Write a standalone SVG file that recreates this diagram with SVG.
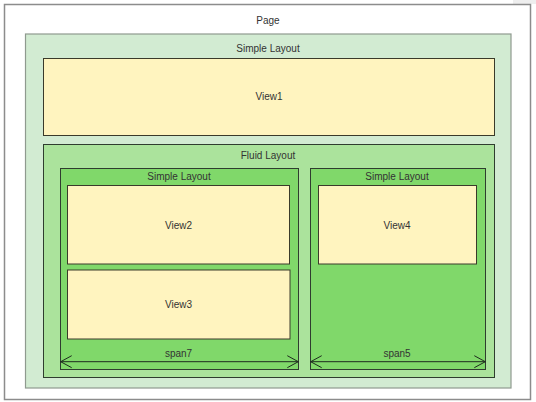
<svg xmlns="http://www.w3.org/2000/svg" width="536" height="402" viewBox="0 0 536 402">
<defs>
<style>
text{font-family:"Liberation Sans",Arial,sans-serif;font-size:10px;fill:#333;text-anchor:middle}
.page{fill:#fff;stroke:#8c8c8c;stroke-width:1.5}
.outer{fill:#d2ebd2;stroke:#8f9a8f;stroke-width:1.2}
.fluid{fill:#abe39c;stroke:#2f3d2f;stroke-width:1}
.simple{fill:#80d86a;stroke:#2f3d2f;stroke-width:1}
.view{fill:#fff4bf;stroke:#3a3a2a;stroke-width:1}
.span{stroke:#1e2a1e;stroke-width:1;fill:none;marker-start:url(#chev);marker-end:url(#chev)}
</style>
<marker id="chev" viewBox="0 0 12 14" refX="11" refY="7" markerWidth="12" markerHeight="14" markerUnits="userSpaceOnUse" orient="auto-start-reverse">
<path d="M0,1 L11,7 L0,13" fill="none" stroke="#1e2a1e" stroke-width="1"/>
</marker>
</defs>
<rect x="513" y="0" width="23" height="4" fill="#eeeeee"/>
<g id="page">
<rect class="page" x="4.5" y="4.5" width="526" height="395"/>
<text x="268" y="23.5">Page</text>
</g>
<g id="simple-layout-outer">
<rect class="outer" x="25.5" y="34" width="485.5" height="354"/>
<text x="268" y="52">Simple Layout</text>
</g>
<g id="view1">
<rect class="view" x="43.5" y="58.5" width="451" height="77"/>
<text x="269" y="99.5">View1</text>
</g>
<g id="fluid-layout">
<rect class="fluid" x="43.5" y="144.5" width="451" height="233"/>
<text x="268" y="158.5">Fluid Layout</text>
</g>
<g id="simple-layout-left">
<rect class="simple" x="60.5" y="168.5" width="238" height="201"/>
<text x="179" y="180">Simple Layout</text>
</g>
<g id="view2">
<rect class="view" x="67.5" y="185.5" width="222" height="78.5"/>
<text x="178.5" y="228.5">View2</text>
</g>
<g id="view3">
<rect class="view" x="67.5" y="270" width="222.5" height="69"/>
<text x="178.5" y="307.5">View3</text>
</g>
<g id="simple-layout-right">
<rect class="simple" x="310.5" y="168.5" width="175" height="201"/>
<text x="397" y="180">Simple Layout</text>
</g>
<g id="view4">
<rect class="view" x="318.5" y="185.5" width="158" height="78.5"/>
<text x="397" y="228.5">View4</text>
</g>
<g id="connectors">
<line class="span" x1="60.7" y1="361.7" x2="298.3" y2="361.7"/>
<line class="span" x1="310.7" y1="361.7" x2="485.3" y2="361.7"/>
</g>
<g id="span-labels">
<text x="178.5" y="356.5">span7</text>
<text x="397" y="356.5">span5</text>
</g>
</svg>
